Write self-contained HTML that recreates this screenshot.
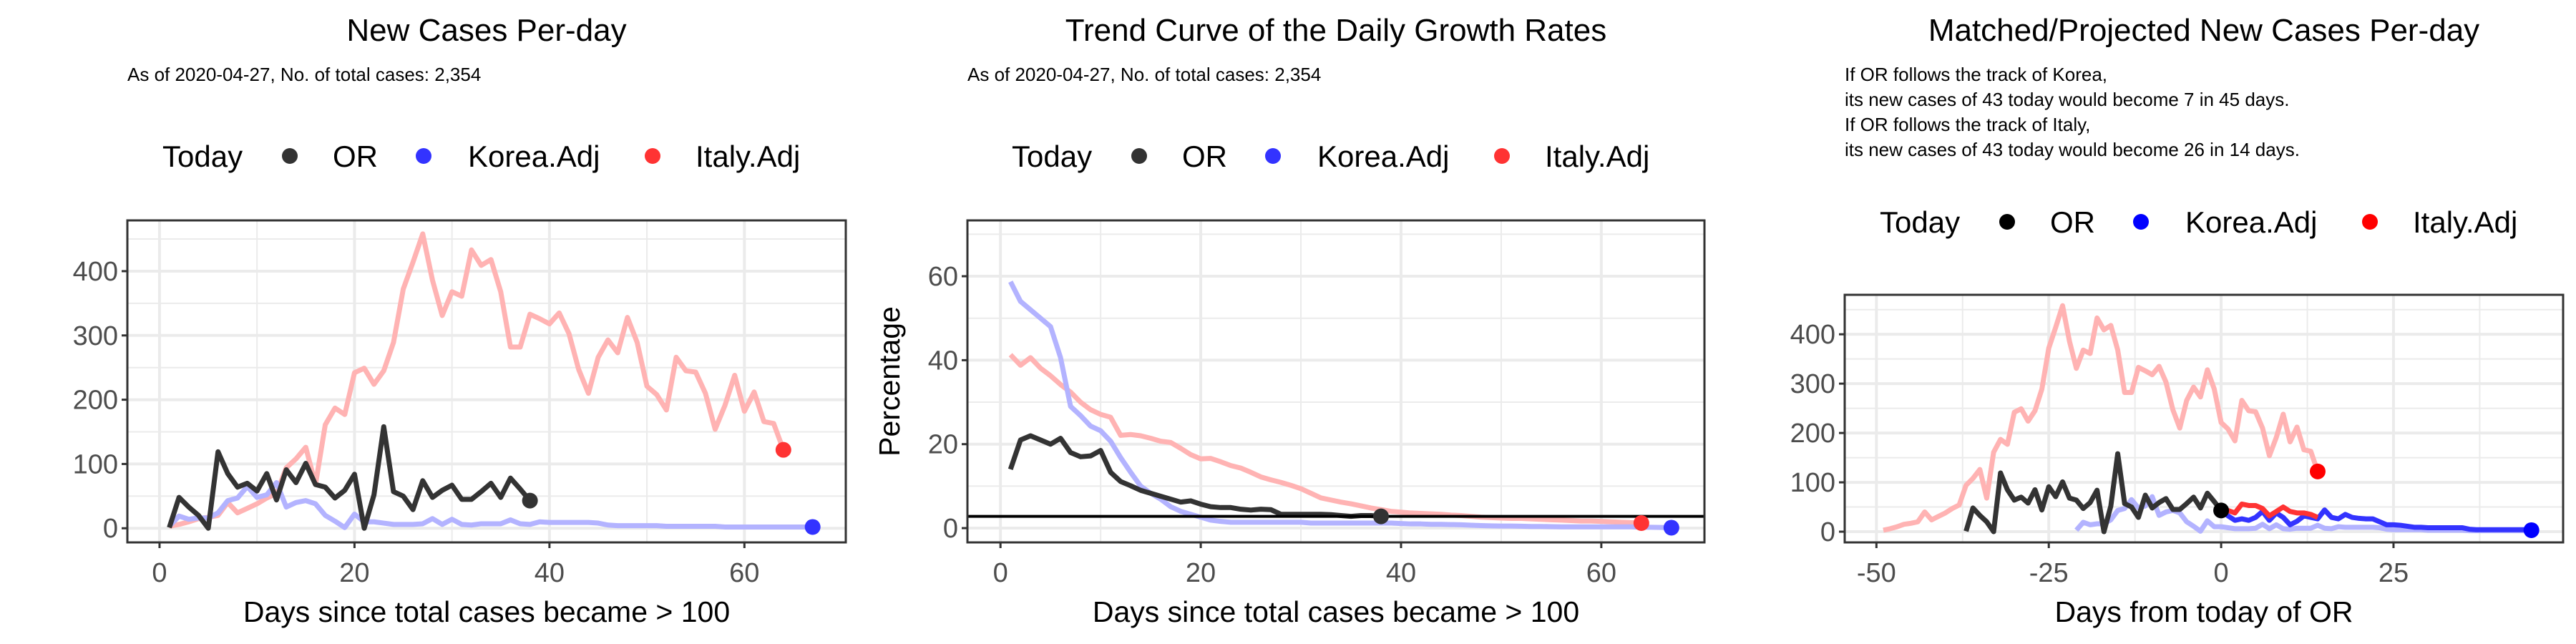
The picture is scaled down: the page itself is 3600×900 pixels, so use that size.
<!DOCTYPE html>
<html><head><meta charset="utf-8"><title>COVID charts</title>
<style>
html,body{margin:0;padding:0;background:#fff;}
svg{display:block;font-family:"Liberation Sans",Arial,sans-serif;}
</style></head>
<body>
<svg id="chart" width="3600" height="900" viewBox="0 0 3600 900" xmlns="http://www.w3.org/2000/svg"></svg>
<script>
// ---------- Data ----------
const orCases = [1,48,33,20,0,119,85,64,70,58,85,44,91,71,101,68,64,47,59,84,0,52,158,57,50,29,74,48,59,67,45,45,57,70,48,78,61,43];
const koreaCases = [3,19,14,16,16,24,43,47,65,48,52,71,33,40,43,38,20,11,1,22,10,10,8,6,6,6,7,15,6,14,6,5,7,7,7,13,7,6,10,9,9,9,9,9,8,5,4,4,4,4,4,3,3,3,3,3,3,2,2,2,2,2,2,2,2,2,2];
const italyCases = [3,6,10,15,17,20,40,24,31,38,47,54,94,108,126,68,161,187,177,242,249,224,245,289,372,414,458,386,331,368,361,433,409,418,368,282,282,333,326,318,335,303,247,210,266,293,273,328,289,221,208,184,266,245,243,210,154,191,238,182,212,166,163,122];

const orRate = [14,21,22,21,20,21.4,18,17,17.2,18.5,13.3,11.1,10.1,9,8.3,7.6,6.9,6.2,6.5,5.7,5.1,4.9,4.9,4.5,4.3,4.5,4.4,3.3,3.3,3.3,3.3,3.3,3.2,3.0,2.8,3.0,3.0,2.8];
const koreaRate = [58.7,54,52,50,48,40.6,29,26.8,24.3,23.2,20.7,16.8,13.3,10,8.3,6.9,5.1,4,3.3,2.6,1.9,1.6,1.4,1.4,1.4,1.4,1.4,1.4,1.4,1.4,1.2,1.2,1.2,1.2,1.2,1.2,1.2,1.2,1.2,1.1,1.0,1.0,0.9,0.9,0.85,0.8,0.7,0.6,0.55,0.5,0.5,0.45,0.4,0.4,0.35,0.3,0.3,0.3,0.3,0.3,0.3,0.3,0.3,0.2,0.2,0.15,0.1];
const italyRate = [41.3,38.8,40.6,38.1,36.3,34.2,32.4,30,28.2,27.1,26.4,22.1,22.3,22,21.4,20.7,20.4,19,17.5,16.5,16.6,15.8,14.9,14.3,13.3,12.2,11.5,10.9,10.2,9.4,8.3,7.2,6.7,6.2,5.8,5.3,4.8,4.4,4,3.8,3.6,3.5,3.4,3.3,3.1,3.0,2.8,2.6,2.5,2.4,2.3,2.3,2.2,2.1,2.0,1.9,1.8,1.7,1.7,1.6,1.5,1.4,1.3,1.2];
const growthRef = [2.8];

const koreaProj = [44,32,23,26,23,29,41,23,38,29,14,21,32,29,26,44,29,26,35,29,27,26,26,20,14,14,13,11,9,9,8,8,8,8,8,8,5,4,4,4,4,4,4,4,4,3];
const italyProj = [44,43,38,56,53,53,47,32,41,50,41,38,38,35,29];

const orShift = [-38];
const koreaShift = [-22];
const italyShift = [-50];

const xTicks12 = [0,20,40,60];
const yTicks1 = [0,100,200,300,400];
const yTicks2 = [0,20,40,60];
const xTicks3 = [-50,-25,0,25];
const yTicks3 = [0,100,200,300,400];

// ---------- helpers ----------
const NS = "http://www.w3.org/2000/svg";
const svg = document.getElementById('chart');
function el(tag, attrs, parent){
  const e = document.createElementNS(NS, tag);
  for (const k in attrs) e.setAttribute(k, attrs[k]);
  (parent||svg).appendChild(e);
  return e;
}
function txt(s, attrs, parent){ const t = el('text', attrs, parent); t.textContent = s; return t; }

function makePanel(p){
  const g = el('g', {});
  
  
  const sx = v => p.x0 + (v - p.xmin) / (p.xmax - p.xmin) * (p.x1 - p.x0);
  const sy = v => p.y1 - (v - p.ymin) / (p.ymax - p.ymin) * (p.y1 - p.y0);
  p.xMinor.forEach(v => {
    const l = el('line', {x1:sx(v),x2:sx(v),y1:p.y0,y2:p.y1,stroke:'#ebebeb','stroke-width':2}, g);
    
    
  });
  p.yMinor.forEach(v => {
    const l = el('line', {x1:p.x0,x2:p.x1,y1:sy(v),y2:sy(v),stroke:'#ebebeb','stroke-width':2}, g);
    
    
  });
  p.xTicks.forEach(v => {
    const l = el('line', {x1:sx(v),x2:sx(v),y1:p.y0,y2:p.y1,stroke:'#ebebeb','stroke-width':4}, g);
    
    
    const tk = el('line', {x1:sx(v),x2:sx(v),y1:p.y1,y2:p.y1+8,stroke:'#333','stroke-width':3}, g);
    
    
    const t = txt(String(v), {x:sx(v), y:p.y1+55, 'text-anchor':'middle','font-size':38, fill:'#4d4d4d'}, g);
    
    
  });
  p.yTicks.forEach(v => {
    const l = el('line', {x1:p.x0,x2:p.x1,y1:sy(v),y2:sy(v),stroke:'#ebebeb','stroke-width':4}, g);
    
    
    const tk = el('line', {x1:p.x0-8,x2:p.x0,y1:sy(v),y2:sy(v),stroke:'#333','stroke-width':3}, g);
    
    
    const t = txt(String(v), {x:p.x0-13, y:sy(v)+13, 'text-anchor':'end','font-size':38, fill:'#4d4d4d'}, g);
    
    
  });
  const clipId = 'clip-' + p.name;
  const cp = el('clipPath', {id:clipId}, g);
  el('rect', {x:p.x0,y:p.y0,width:p.x1-p.x0,height:p.y1-p.y0}, cp);
  const plot = el('g', {'clip-path':'url(#'+clipId+')'}, g);
  p.series.forEach(s => {
    const pts = s.values.map((v,i) => sx(s.start + i) + ',' + sy(v)).join(' ');
    const pl = el('polyline', {points:pts, fill:'none', stroke:s.color, 'stroke-width':7, 'stroke-linejoin':'round'}, plot);
    
    
  });
  (p.hlines||[]).forEach(h => {
    const l = el('line', {x1:p.x0,x2:p.x1,y1:sy(h),y2:sy(h),stroke:'#000','stroke-width':4}, plot);
    
    
  });
  p.points.forEach(pt => {
    const c = el('ellipse', {cx:sx(pt.x), cy:sy(pt.y), rx:11, ry:11, fill:pt.color}, plot);
    
    
  });
  const box = el('rect', {x:p.x0,y:p.y0,width:p.x1-p.x0,height:p.y1-p.y0,fill:'none',stroke:'#333','stroke-width':3}, g);
  
  
  const xt = txt(p.xTitle, {x:(p.x0+p.x1)/2, y:p.y1+111, 'text-anchor':'middle','font-size':41, fill:'#000'}, g);
  
  
  if (p.yTitle){
    const yt = txt(p.yTitle, {x:0,y:0,'text-anchor':'middle','font-size':41,fill:'#000',transform:'translate('+(p.x0-95)+','+((p.y0+p.y1)/2)+') rotate(-90)'}, g);
    
    
  }
  const tt = txt(p.title, {x:p.titleX, y:57, 'text-anchor':'middle','font-size':44, fill:'#000'}, g);
  
  
  p.sub.forEach((line,i) => {
    const st = txt(line, {x:p.x0, y:113 + i*35, 'font-size':26, fill:'#000'}, g);
    
    
  });
  const lg = el('g', {}, g);
  
  
  const o = p.legOff, ly = p.legY;
  const lt = txt('Today', {x:227+o, y:ly, 'font-size':42, fill:'#000'}, lg);
  
  
  const items = [['OR',405,465,p.legCols[0]],['Korea.Adj',592,654,p.legCols[1]],['Italy.Adj',912,972,p.legCols[2]]];
  items.forEach(it => {
    const c = el('circle', {cx:it[1]+o, cy:ly-15, r:11, fill:it[3]}, lg);
    
    
    const t = txt(it[0], {x:it[2]+o, y:ly, 'font-size':42, fill:'#000'}, lg);
    
    
  });
}

const sub1 = ['As of 2020-04-27, No. of total cases: 2,354'];
const legA = ['#333333','#3333ff','#ff3333'];

makePanel({name:'new-cases-panel', x0:178,x1:1182,y0:308,y1:758, xmin:-3.3,xmax:70.4,ymin:-22,ymax:479,
  xTicks:xTicks12, yTicks:yTicks1, xMinor:[10,30,50], yMinor:[50,150,250,350,450],
  series:[
    {name:'italy-line', values:italyCases, start:1, color:'#ffb3b3'},
    {name:'korea-line', values:koreaCases, start:1, color:'#b3b3ff'},
    {name:'or-line', values:orCases, start:1, color:'#333333'}],
  points:[{name:'or-today-point',x:orCases.length,y:orCases[orCases.length-1],color:'#333'},
          {name:'korea-today-point',x:koreaCases.length,y:koreaCases[koreaCases.length-1],color:'#3333ff'},
          {name:'italy-today-point',x:italyCases.length,y:italyCases[italyCases.length-1],color:'#ff3333'}],
  xTitle:'Days since total cases became > 100', title:'New Cases Per-day', titleX:680, sub:sub1,
  legOff:0, legY:233, legCols:legA});

makePanel({name:'growth-rate-panel', x0:1352,x1:2382,y0:308,y1:758, xmin:-3.3,xmax:70.3,ymin:-3.4,ymax:73.3,
  xTicks:xTicks12, yTicks:yTicks2, xMinor:[10,30,50], yMinor:[10,30,50,70],
  series:[
    {name:'italy-rate-line', values:italyRate, start:1, color:'#ffb3b3'},
    {name:'korea-rate-line', values:koreaRate, start:1, color:'#b3b3ff'},
    {name:'or-rate-line', values:orRate, start:1, color:'#333333'}],
  hlines:growthRef,
  points:[{name:'or-today-point',x:orRate.length,y:orRate[orRate.length-1],color:'#333'},
          {name:'korea-today-point',x:koreaRate.length,y:koreaRate[koreaRate.length-1],color:'#3333ff'},
          {name:'italy-today-point',x:italyRate.length,y:italyRate[italyRate.length-1],color:'#ff3333'}],
  xTitle:'Days since total cases became > 100', yTitle:'Percentage', title:'Trend Curve of the Daily Growth Rates', titleX:1867, sub:sub1,
  legOff:1187, legY:233, legCols:legA});

makePanel({name:'projection-panel', x0:2578,x1:3582,y0:412,y1:758, xmin:-54.6,xmax:49.6,ymin:-21.7,ymax:480,
  xTicks:xTicks3, yTicks:yTicks3, xMinor:[-37.5,-12.5,12.5,37.5], yMinor:[50,150,250,350,450],
  series:[
    {name:'italy-history-line', values:italyCases, start:1+italyShift[0], color:'#ffb3b3'},
    {name:'korea-history-line', values:koreaCases, start:1+koreaShift[0], color:'#b3b3ff'},
    {name:'or-line', values:orCases, start:1+orShift[0], color:'#333333'},
    {name:'korea-projection-line', values:koreaProj, start:0, color:'#3333ff'},
    {name:'italy-projection-line', values:italyProj, start:0, color:'#ff3333'}],
  points:[{name:'or-today-point',x:0,y:orCases[orCases.length-1],color:'#000'},
          {name:'korea-end-point',x:koreaProj.length-1,y:koreaProj[koreaProj.length-1],color:'#0000ff'},
          {name:'italy-end-point',x:italyCases.length+italyShift[0],y:italyCases[italyCases.length-1],color:'#ff0000'}],
  xTitle:'Days from today of OR', title:'Matched/Projected New Cases Per-day', titleX:3080,
  sub:['If OR follows the track of Korea,','its new cases of 43 today would become 7 in 45 days.','If OR follows the track of Italy,','its new cases of 43 today would become 26 in 14 days.'],
  legOff:2400, legY:325, legCols:['#000000','#0000ff','#ff0000']});
</script>
</body></html>
